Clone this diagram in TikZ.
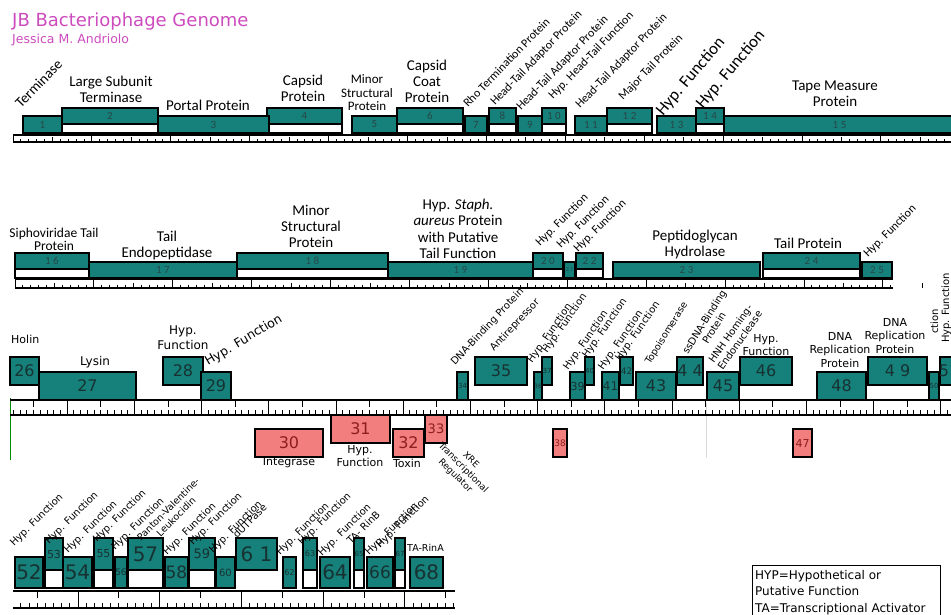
\documentclass[tikz,border=0pt]{standalone}
\usepackage{fontspec}
\setmainfont{Carlito}
\newfontfamily\dejavu{DejaVu Sans}

\definecolor{genecol}{RGB}{22,128,122}
\definecolor{revcol}{RGB}{242,126,126}
\definecolor{titlecol}{RGB}{204,76,190}
\definecolor{numcol}{RGB}{38,72,72}
\definecolor{darknum}{RGB}{22,50,50}
\definecolor{revnum}{RGB}{140,30,30}

\tikzset{
  genebox/.style={draw=black, line width=1.8pt, fill=genecol},
  hole/.style={draw=black, line width=1.8pt, fill=white},
  orf/.style={draw=black, line width=1.3pt, fill=genecol},
  revorf/.style={draw=black, line width=1.3pt, fill=revcol},
  axis/.style={line width=1.6pt},
  tick/.style={line width=0.9pt},
  num/.style={font=\fontsize{11}{11}\selectfont, text=numcol},
  lab/.style={font=\fontsize{15}{16}\selectfont, align=center, inner sep=0pt},
  slant/.style={font=\fontsize{12}{12}\selectfont, rotate=#1, anchor=base west, inner sep=0pt},
  slant/.default=46,
  dvlab/.style={font=\dejavu\fontsize{11}{13.5}\selectfont, align=center, inner sep=0pt},
  dvslant/.style={font=\dejavu\fontsize{10}{10}\selectfont, rotate=#1, anchor=base west, inner sep=0pt},
  dvslant/.default=45,
}

\begin{document}
\begin{tikzpicture}[x=1pt, y=-1pt]
  \useasboundingbox (0,0) rectangle (951,615);
  \clip (0,0) rectangle (951,615);

  % title
  \node[anchor=base west, inner sep=0pt, text=titlecol, font=\dejavu\fontsize{18}{18}\selectfont] (title) at (12,27) {JB Bacteriophage Genome};
  \node[anchor=base west, inner sep=0pt, text=titlecol, font=\dejavu\fontsize{12.5}{12.5}\selectfont] (author) at (12,44) {Jessica M. Andriolo};

  % ---- row 1: genes 1-15
  \foreach \xa/\xb/\n in {62/158/2, 267/342/4, 397/463/6, 489/516/8, 542/566/1 0, 607/652/1 2, 696/724/1 4} {
    \draw[hole] (\xa,124) rectangle (\xb,133);
    \draw[genebox] (\xa,108) rectangle node[num] (a\xa) {\n} (\xb,124);
  }
  \foreach \xa/\xb/\n in {23/62/1, 158/269/3, 352/397/5, 465/487/7, 518/542/9, 575/607/1 1, 657/696/1 3, 724/955/1 5}
    \draw[genebox] (\xa,116) rectangle node[num] (a\xa) {\n} (\xb,133);
  \draw[axis] (13,135) -- (951,135) (13,142) -- (951,142);
  \foreach \i in {0,...,11}
    \draw[tick] ({13+78.9*\i},135) -- ++(0,7) ({52.45+78.9*\i},142) -- ++(0,-4.5);
  \foreach \i in {1,...,118}
    \draw[tick] ({13+7.89*\i},142) -- ++(0,-2.5);

  \node[slant, font=\fontsize{14.5}{14.5}\selectfont] (terminase) at (21,109) {Terminase};
  \node[lab] (lgsub) at (111,89) {Large Subunit\\Terminase};
  \node[lab] (portal) at (208,105) {Portal Protein};
  \node[lab] (capsid) at (303,88) {Capsid\\Protein};
  \node[lab, font=\fontsize{13}{13.5}\selectfont] (minor1) at (367,93) {Minor\\Structural\\Protein};
  \node[lab] (coat) at (427,81) {Capsid\\Coat\\Protein};
  \node[slant] (rho) at (468,108) {Rho Termination Protein};
  \node[slant] (htap1) at (495,106) {Head-Tail Adaptor Protein};
  \node[slant] (htap2) at (521,111) {Head-Tail Adaptor Protein};
  \node[slant] (hyphtf) at (553,100) {Hyp. Head-Tail Function};
  \node[slant] (htap3) at (580,109) {Head-Tail Adaptor Protein};
  \node[slant] (major) at (623,101) {Major Tail Protein};
  \node[slant=50, font=\fontsize{17}{17}\selectfont] (hyp13) at (663,117) {Hyp. Function};
  \node[slant=50, font=\fontsize{17}{17}\selectfont] (hyp14) at (703,110) {Hyp. Function};
  \node[lab] (tape) at (835,94) {Tape Measure\\Protein};

  % ---- row 2: genes 16-25
  \foreach \xa/\xb/\n in {15/89/1 6, 237/388/1 8, 533/563/2 0, 576/603/2 2, 763/860/2 4} {
    \draw[hole] (\xa,269) rectangle (\xb,278);
    \draw[genebox] (\xa,253) rectangle node[num] (b\xa) {\n} (\xb,269);
  }
  \foreach \xa/\xb/\n in {89/237/1 7, 388/533/1 9, 613/760/2 3, 862/892/2 5}
    \draw[genebox] (\xa,262) rectangle node[num] (b\xa) {\n} (\xb,278);
  \draw[genebox] (564,262) rectangle node[num, font=\fontsize{6}{6}\selectfont] (b564) {2 1} (575,278);
  \draw[axis] (15,279) -- (893,279) (15,288) -- (893,288);
  \foreach \i in {0,...,11}
    \draw[tick] ({15+78.9*\i},279) -- ++(0,9) ({54.45+78.9*\i},288) -- ++(0,-5);
  \foreach \i in {1,...,111}
    \draw[tick] ({15+7.89*\i},288) -- ++(0,-3);

  \node[lab, font=\fontsize{13.5}{13}\selectfont] (sipho) at (54,239) {Siphoviridae Tail\\Protein};
  \node[lab] (endo) at (167,246) {Tail\\Endopeptidase};
  \node[lab] (minor2) at (311,226) {Minor\\Structural\\Protein};
  \node[lab, font=\fontsize{15}{16.5}\selectfont] (staph) at (458,229) {Hyp. \textit{Staph.}\\\textit{aureus} Protein\\with Putative\\Tail Function};
  \node[slant=45] (hyp20) at (540,247) {Hyp. Function};
  \node[slant=45] (hyp21) at (561,249) {Hyp. Function};
  \node[slant=45] (hyp22) at (578,253) {Hyp. Function};
  \node[lab] (pepti) at (695,245) {Peptidoglycan\\Hydrolase};
  \node[lab] (tailp) at (808,243) {Tail Protein};
  \node[slant=45] (hyp25) at (868,258) {Hyp. Function};

  % ---- row 3: genes 26-51
  \draw[green!55!black, line width=0.6pt] (10,398) -- (10,460);
  \draw[black!15, line width=0.6pt] (706,403) -- (706,458);
  \foreach \xa/\xb/\n/\fs in {10/39/26/16, 163/203/28/16, 475/527/35/16, 542/552/37/7, 585/594/40/7,
      620/633/42/9, 677/703/4 4/16, 740/792/46/16, 868/927/4 9/16, 940/958/51/16}
    \draw[orf] (\xa,357) rectangle node[font=\dejavu\fontsize{\fs}{\fs}\selectfont, text=darknum] (c\xa) {\n} (\xb,385);
  \foreach \xa/\xb/\n/\fs in {39/136/27/16, 201/231/29/16, 457/468/34/7, 534/542/36/6, 570/585/39/11,
      602/619/41/12, 636/676/43/16, 707/739/45/16, 817/866/48/16, 929/939/50/7}
    \draw[orf] (\xa,372) rectangle node[font=\dejavu\fontsize{\fs}{\fs}\selectfont, text=darknum] (c\xa) {\n} (\xb,400);
  \foreach \xa/\xb/\n/\fs in {331/390/31/16, 425/447/33/13}
    \draw[revorf] (\xa,415) rectangle node[font=\dejavu\fontsize{\fs}{\fs}\selectfont, text=revnum] (r\xa) {\n} (\xb,443);
  \foreach \xa/\xb/\n/\fs in {255/323/30/16, 393/424/32/16, 553/567/38/9, 793/812/47/11}
    \draw[revorf] (\xa,429) rectangle node[font=\dejavu\fontsize{\fs}{\fs}\selectfont, text=revnum] (r\xa) {\n} (\xb,457);
  \draw[axis] (10,400) -- (951,400) (10,415) -- (951,415);
  \foreach \i in {1,...,14}
    \draw[tick] ({67.2*\i},400) -- ++(0,15);
  \foreach \i in {0,...,13}
    \draw[tick] ({33.6+67.2*\i},400) -- ++(0,7);
  \foreach \i in {2,...,141}
    \draw[tick] ({6.72*\i},415) -- ++(0,-5.5);

  \node[dvlab, anchor=west] (holin) at (11,339) {Holin};
  \node[dvlab, font=\dejavu\fontsize{12}{12}\selectfont] (lysin) at (95,362) {Lysin};
  \node[dvlab, font=\dejavu\fontsize{12}{15}\selectfont] (hyp28) at (183,338) {Hyp.\\Function};
  \node[dvslant=31, font=\dejavu\fontsize{12.5}{12.5}\selectfont] (hyp29) at (208,366) {Hyp. Function};
  \node[dvlab] (integ) at (289,463) {Integrase};
  \node[dvlab] (hyp31) at (360,456) {Hyp.\\Function};
  \node[dvlab] (toxin) at (407,463) {Toxin};
  \node[dvlab, font=\dejavu\fontsize{9}{11}\selectfont, rotate=-45] (xre) at (463,468) {XRE\\Transcriptional\\Regulator};
  \node[dvslant=47] (dnab) at (455,366) {DNA-Binding Protein};
  \node[dvslant=47] (antirep) at (494,352) {Antirepressor};
  \node[dvslant=55] (hyp36) at (532,364) {Hyp. Function};
  \node[dvslant=55] (hyp37) at (547,354) {Hyp. Function};
  \node[dvslant=55] (hyp39) at (568,371) {Hyp. Function};
  \node[dvslant=55] (hyp40) at (587,359) {Hyp. Function};
  \node[dvslant=55] (hyp41) at (603,371) {Hyp. Function};
  \node[dvslant=55] (hyp42) at (620,362) {Hyp. Function};
  \node[dvslant=58, font=\dejavu\fontsize{9.5}{9.5}\selectfont] (topo) at (650,365) {Topoisomerase};
  \node[dvlab, font=\dejavu\fontsize{10}{11.5}\selectfont, rotate=58] (ssdna) at (709,325) {ssDNA-Binding\\Protein};
  \node[dvlab, font=\dejavu\fontsize{10}{11.5}\selectfont, rotate=55] (hnh) at (735,337) {HNH Homing-\\Endonuclease};
  \node[dvlab, font=\dejavu\fontsize{11}{13}\selectfont] (hyp46) at (766,345) {Hyp.\\Function};
  \node[dvlab] (dnarep48) at (840,350) {DNA\\Replication\\Protein};
  \node[dvlab] (dnarep49) at (895,336) {DNA\\Replication\\Protein};
  \node[dvslant=90] (ction) at (938,334) {ction};
  \node[dvslant=90] (hyp51) at (949,343) {Hyp. Function};

  % ---- row 4: genes 52-68
  \foreach \xa/\xb/\n/\fs in {45/63/53/11, 94/113/55/11, 128/163/57/20, 189/215/59/13, 303/317/63/8, 354/364/65/7, 395/405/67/7} {
    \draw[hole, line width=1.3pt] (\xa,570) rectangle (\xb,588);
    \draw[orf] (\xa,538) rectangle node[font=\dejavu\fontsize{\fs}{\fs}\selectfont, text=darknum] (d\xa) {\n} (\xb,570);
  }
  \draw[orf] (236,538) rectangle node[font=\dejavu\fontsize{20}{20}\selectfont, text=darknum] (d236) {6 1} (277,570);
  \foreach \xa/\xb/\n/\fs in {15/43/52/20, 63/92/54/20, 115/127/56/9, 165/188/58/17, 216/235/60/10,
      283/296/62/8, 320/350/64/20, 367/393/66/17, 410/443/68/20}
    \draw[orf] (\xa,557) rectangle node[font=\dejavu\fontsize{\fs}{\fs}\selectfont, text=darknum] (d\xa) {\n} (\xb,588);
  \draw[axis] (13,591) -- (455,591) (13,608) -- (455,608);
  \foreach \i in {1,...,5}
    \draw[tick] ({-3.7+81.7*\i},591) -- ++(0,17);
  \foreach \i in {0,...,5}
    \draw[tick] ({37.15+81.7*\i},591) -- ++(0,7);
  \foreach \i in {3,...,56}
    \draw[tick] ({-3.7+8.17*\i},608) -- ++(0,-5);

  \foreach \px/\py [count=\k] in {14/547, 49/545, 68/554, 97/543, 115/551, 167/556, 193/546, 213/554,
      280/556, 302/546, 322/557, 369/556, 380/549}
    \node[dvslant] (hypd\k) at (\px,\py) {Hyp. Function};
  \node[dvlab, font=\dejavu\fontsize{9.5}{11}\selectfont, rotate=45] (panton) at (172,513) {Panton-Valentine-\\Leukocidin};
  \node[dvslant] (dutp) at (237,539) {dUTPase};
  \node[dvslant] (rinb) at (351,545) {TA- RinB};
  \node[dvlab, font=\dejavu\fontsize{9.5}{9.5}\selectfont, anchor=west] (rina) at (407,548) {TA-RinA};

  % legend
  \draw[line width=0.6pt] (752,565) rectangle (940,620);
  \node[anchor=north west, align=left, inner sep=0pt, font=\dejavu\fontsize{12}{16.5}\selectfont] (legend) at (755,570) {HYP=Hypothetical or\\Putative Function\\TA=Transcriptional Activator};
\end{tikzpicture}
\end{document}
